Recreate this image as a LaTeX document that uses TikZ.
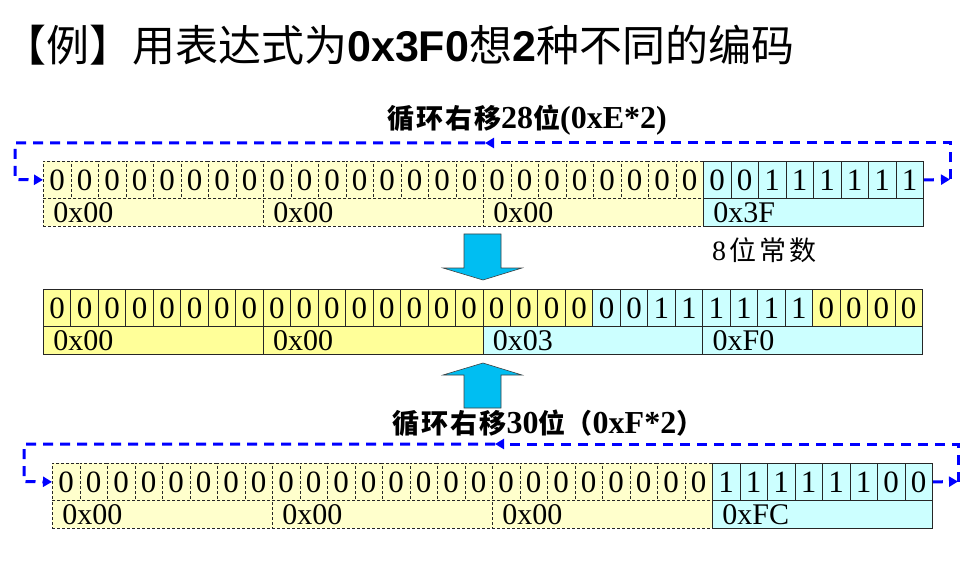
\documentclass[tikz,border=0pt]{standalone}
\usepackage{fontspec}
\setmainfont{Liberation Serif}
\newfontfamily\cjk{Noto Sans CJK SC}
\newfontfamily\arialf{Liberation Sans}
\usetikzlibrary{arrows.meta}
\definecolor{yelL}{HTML}{FFFFCC}
\definecolor{yelM}{HTML}{FFFF99}
\definecolor{cyaL}{HTML}{CCFFFF}
\definecolor{arrC}{HTML}{00BEF2}
\tikzset{
  bit/.style={draw=black!85, line width=0.8pt, inner sep=0pt, minimum width=27.5pt, minimum height=37pt, anchor=north west, font=\fontsize{31}{31}\selectfont},
  byte/.style={draw=black!85, line width=0.8pt, inner xsep=10pt, inner ysep=0pt, text width=200pt, align=left, minimum height=28pt, anchor=north west, font=\fontsize{30}{30}\selectfont},
  dsh/.style={dashed, dash pattern=on 3pt off 2pt},
  loopline/.style={draw=blue, line width=3pt, dash pattern=on 10pt off 7pt},
  tip/.style={-{Triangle[length=9pt,width=10pt]}},
  bigarrow/.style={fill=arrC, draw=black!75, line width=0.6pt},
  lbl/.style={font=\fontsize{32}{32}\selectfont\bfseries}
}
\newcommand{\zh}[1]{{\fontsize{27}{27}\selectfont\cjk #1}}
\begin{document}
\begin{tikzpicture}[x=1pt,y=-1pt]
\useasboundingbox (0,0) rectangle (971,585);
% title
\node[anchor=west, inner sep=0pt] (title) at (3,45) {\fontsize{43}{43}\selectfont\cjk 【例】用表达式为{\arialf\bfseries 0x3F0}想{\arialf\bfseries 2}种不同的编码};

% ===== top row =====
\foreach \i in {0,...,23} {
  \node[bit, dsh, fill=yelL] (t\i) at (43+\i*27.5,161) {0};
}
\foreach \i/\b in {24/0,25/0,26/1,27/1,28/1,29/1,30/1,31/1} {
  \node[bit, fill=cyaL] (t\i) at (43+\i*27.5,161) {\b};
}
\foreach \k in {0,1,2} {
  \node[byte, dsh, fill=yelL] (tb\k) at (43+\k*220,198) {0x00};
}
\node[byte, fill=cyaL] (tb3) at (703,198) {0x3F};
\node[anchor=west, inner sep=0pt] (const) at (712,250) {\fontsize{28}{28}\selectfont 8\hspace{3pt}{\fontsize{27}{27}\selectfont\cjk 位\hspace{3pt}常\hspace{3pt}数}};

% top loop
\coordinate (tcR) at (950,179.5);
\coordinate (tcM) at (485,143);
\coordinate (tcL) at (15,179.5);
\draw[loopline, tip] (t31.east) -- (tcR);
\draw[loopline, tip] (tcR) |- (tcM);
\draw[loopline, tip] (tcM) -| (tcL) -- (t0.west);
\node[lbl] (lab1) at (527,120) {\zh{循\hspace{2pt}环\hspace{2pt}右\hspace{2pt}移}28\zh{位}(0xE*2)};

% ===== middle row =====
\foreach \i in {0,...,19} {
  \node[bit, fill=yelM] (m\i) at (43+\i*27.47,289) {0};
}
\foreach \i/\b in {20/0,21/0,22/1,23/1,24/1,25/1,26/1,27/1} {
  \node[bit, fill=cyaL] (m\i) at (43+\i*27.47,289) {\b};
}
\foreach \i in {28,...,31} {
  \node[bit, fill=yelM] (m\i) at (43+\i*27.47,289) {0};
}
\node[byte, fill=yelM] (mb0) at (43,326) {0x00};
\node[byte, fill=yelM] (mb1) at (262.76,326) {0x00};
\node[byte, fill=cyaL] (mb2) at (482.52,326) {0x03};
\node[byte, fill=cyaL] (mb3) at (702.28,326) {0xF0};

% big arrows
\draw[bigarrow] (464,234) -- (501,234) -- (501,268) -- (522,268) -- (483,280) -- (443,268) -- (464,268) -- cycle;
\draw[bigarrow] (464,408) -- (501,408) -- (501,375) -- (522,375) -- (483,363) -- (443,375) -- (464,375) -- cycle;

% ===== bottom row =====
\foreach \i in {0,...,23} {
  \node[bit, fill=yelL, dsh] (b\i) at (52+\i*27.5,463) {0};
}
\foreach \i/\b in {24/1,25/1,26/1,27/1,28/1,29/1,30/0,31/0} {
  \node[bit, fill=cyaL] (b\i) at (52+\i*27.5,463) {\b};
}
\foreach \k in {0,1,2} {
  \node[byte, dsh, fill=yelL] (bb\k) at (52+\k*220,500) {0x00};
}
\node[byte, fill=cyaL] (bb3) at (712,500) {0xFC};

% bottom loop
\coordinate (bcR) at (958,481.5);
\coordinate (bcM) at (495,444);
\coordinate (bcL) at (24,481.5);
\draw[loopline, tip] (b31.east) -- (bcR);
\draw[loopline, tip] (bcR) |- (bcM);
\draw[loopline, tip] (bcM) -| (bcL) -- (b0.west);
\node[lbl] (lab2) at (548,423) {\zh{循\hspace{2pt}环\hspace{2pt}右\hspace{2pt}移}30\zh{位（}0xF*2\zh{）}};
\end{tikzpicture}
\end{document}
